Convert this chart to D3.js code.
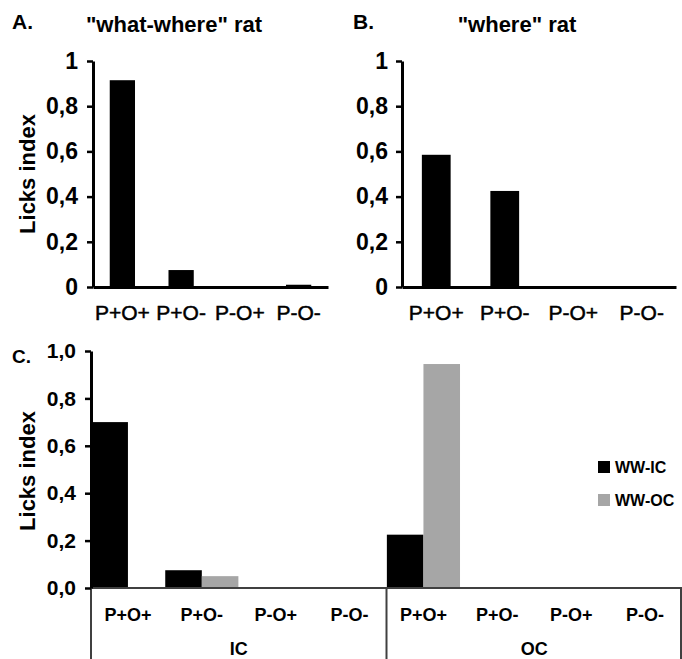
<!DOCTYPE html>
<html lang="en">

<head>
  <meta charset="utf-8">
  <title>Licks index</title>
  <script type="text/javascript" src="https://cdn.jsdelivr.net/npm/d3@7"></script>
  <style>
    body { margin: 0; background: #fff; }
    text { font-family: "Liberation Sans", Arial, sans-serif; fill: #000; }
  </style>
</head>

<body>

  <script type="text/javascript">

    // Data
    var categories = ["P+O+", "P+O-", "P-O+", "P-O-"];
    var whatWhereValues = [0.915, 0.075, 0, 0.01];
    var whereValues = [0.585, 0.425, 0, 0];
    var contexts = ["IC", "OC"];
    var seriesNames = ["WW-IC", "WW-OC"];
    var seriesColors = ["#000000", "#a6a6a6"];
    // one row per context (IC, OC), one value per category
    var wwIcValues = [[0.70, 0.075, 0, 0], [0.225, 0, 0, 0]];
    var wwOcValues = [[0, 0.05, 0, 0], [0.945, 0, 0, 0]];
    var yTicks = [0, 0.2, 0.4, 0.6, 0.8, 1];

    var w = 682;
    var h = 659;

    var svg = d3.select("body")
      .append("svg")
      .attr("width", w)
      .attr("height", h);

    // "0,2" style comma decimals
    var fmtShort = function (d) {
      return (d === 0 || d === 1) ? String(d) : d.toFixed(1).replace(".", ",");
    };
    var fmtLong = function (d) {
      return d.toFixed(1).replace(".", ",");
    };

    // top panels A and B
    function simplePanel(opt) {
      var xScale = d3.scaleBand()
        .domain(categories)
        .range([opt.left, opt.right])
        .paddingInner(opt.pad)
        .paddingOuter(opt.pad / 2);

      var yScale = d3.scaleLinear()
        .domain([0, 1])
        .range([287, 61]);

      var g = svg.append("g");

      g.selectAll("rect")
        .data(opt.values)
        .enter()
        .append("rect")
        .attr("x", function (d, i) { return xScale(categories[i]); })
        .attr("y", function (d) { return yScale(d); })
        .attr("width", xScale.bandwidth())
        .attr("height", function (d) { return yScale(0) - yScale(d); })
        .attr("fill", "#000");

      // x axis
      var xAxis = g.append("g")
        .attr("transform", "translate(0,287)")
        .call(d3.axisBottom(xScale).tickSize(0).tickSizeOuter(0).tickPadding(18));
      xAxis.select(".domain").attr("stroke", "#000").attr("stroke-width", 3);
      xAxis.selectAll("text")
        .attr("font-size", "21px")
        .attr("stroke", "#000")
        .attr("stroke-width", 0.5);

      // y axis
      var yAxis = g.append("g")
        .attr("transform", "translate(" + opt.left + ",0)")
        .call(d3.axisLeft(yScale).tickValues(yTicks).tickFormat(fmtShort)
          .tickSize(6).tickSizeOuter(0).tickPadding(opt.tickPad));
      yAxis.select(".domain").attr("stroke", "#000").attr("stroke-width", 3);
      yAxis.selectAll(".tick line").attr("stroke", "#000").attr("stroke-width", 2.5);
      yAxis.selectAll("text").attr("font-size", "23px").attr("font-weight", "bold");

      // panel letter + title
      g.append("text")
        .attr("x", opt.letterX)
        .attr("y", 29)
        .attr("font-size", "21px")
        .attr("font-weight", "bold")
        .text(opt.letter);

      g.append("text")
        .attr("x", opt.titleX)
        .attr("y", 32)
        .attr("text-anchor", "middle")
        .attr("font-size", "22px")
        .attr("font-weight", "bold")
        .text(opt.title);

      if (opt.ylabel) {
        g.append("text")
          .attr("transform", "translate(35,174) rotate(-90)")
          .attr("text-anchor", "middle")
          .attr("font-size", "22px")
          .attr("font-weight", "bold")
          .text(opt.ylabel);
      }
    }

    simplePanel({
      values: whatWhereValues, left: 93, right: 328, pad: 0.57, tickPad: 9,
      letter: "A.", letterX: 12, title: "\"what-where\" rat", titleX: 174, ylabel: "Licks index"
    });

    simplePanel({
      values: whereValues, left: 402, right: 676, pad: 0.58, tickPad: 8,
      letter: "B.", letterX: 353, title: "\"where\" rat", titleX: 517, ylabel: null
    });

    // panel C: grouped bars by context
    var cBase = 588;
    var x0 = d3.scaleBand().domain(contexts).range([91, 682]);
    var x1 = d3.scaleBand().domain(categories).range([0, x0.bandwidth()]);
    var x2 = d3.scaleBand().domain(seriesNames).range([0, x1.bandwidth()]).paddingOuter(0.01);
    var yC = d3.scaleLinear().domain([0, 1]).range([cBase, 351]);

    var cg = svg.append("g");
    var seriesValues = [wwIcValues, wwOcValues];

    seriesNames.forEach(function (s, si) {
      contexts.forEach(function (ctx, ci) {
        cg.append("g")
          .selectAll("rect")
          .data(seriesValues[si][ci])
          .enter()
          .append("rect")
          .attr("x", function (d, i) { return x0(ctx) + x1(categories[i]) + x2(s); })
          .attr("y", function (d) { return yC(d); })
          .attr("width", x2.bandwidth())
          .attr("height", function (d) { return yC(0) - yC(d); })
          .attr("fill", seriesColors[si]);
      });
    });

    // category labels under each context
    contexts.forEach(function (ctx) {
      var ax = cg.append("g")
        .attr("transform", "translate(" + x0(ctx) + "," + cBase + ")")
        .call(d3.axisBottom(x1).tickSize(0).tickSizeOuter(0).tickPadding(20));
      ax.select(".domain").remove();
      ax.selectAll("text").attr("font-size", "18px").attr("font-weight", "bold");

      cg.append("text")
        .attr("x", x0(ctx) + x0.bandwidth() / 2)
        .attr("y", 655)
        .attr("text-anchor", "middle")
        .attr("font-size", "18px")
        .attr("font-weight", "bold")
        .text(ctx);
    });

    // x axis line and group separators
    cg.append("line")
      .attr("x1", 91).attr("x2", 682)
      .attr("y1", cBase).attr("y2", cBase)
      .attr("stroke", "#404040").attr("stroke-width", 2);

    cg.selectAll(".sep")
      .data(contexts.map(function (c) { return x0(c); }).concat([x0.range()[1] - 1]))
      .enter()
      .append("line")
      .attr("class", "sep")
      .attr("x1", function (d) { return d; })
      .attr("x2", function (d) { return d; })
      .attr("y1", cBase).attr("y2", h)
      .attr("stroke", "#404040").attr("stroke-width", 2);

    // y axis
    var yAxisC = cg.append("g")
      .attr("transform", "translate(91,0)")
      .call(d3.axisLeft(yC).tickValues(yTicks).tickFormat(fmtLong)
        .tickSize(6).tickSizeOuter(0).tickPadding(9));
    yAxisC.select(".domain").attr("stroke", "#000").attr("stroke-width", 3);
    yAxisC.selectAll(".tick line").attr("stroke", "#000").attr("stroke-width", 2.5);
    yAxisC.selectAll("text").attr("font-size", "21px").attr("font-weight", "bold");

    cg.append("text")
      .attr("x", 12)
      .attr("y", 363)
      .attr("font-size", "19px")
      .attr("font-weight", "bold")
      .text("C.");

    cg.append("text")
      .attr("transform", "translate(35,471) rotate(-90)")
      .attr("text-anchor", "middle")
      .attr("font-size", "22px")
      .attr("font-weight", "bold")
      .text("Licks index");

    // legend
    var legend = cg.selectAll(".legend")
      .data(seriesNames)
      .enter()
      .append("g")
      .attr("class", "legend")
      .attr("transform", function (d, i) { return "translate(598," + (461 + i * 33) + ")"; });

    legend.append("rect")
      .attr("width", 12).attr("height", 12)
      .attr("fill", function (d, i) { return seriesColors[i]; });

    legend.append("text")
      .attr("x", 17)
      .attr("y", 12)
      .attr("font-size", "16px")
      .attr("font-weight", "bold")
      .text(function (d) { return d; });

  </script>

</body>

</html>
